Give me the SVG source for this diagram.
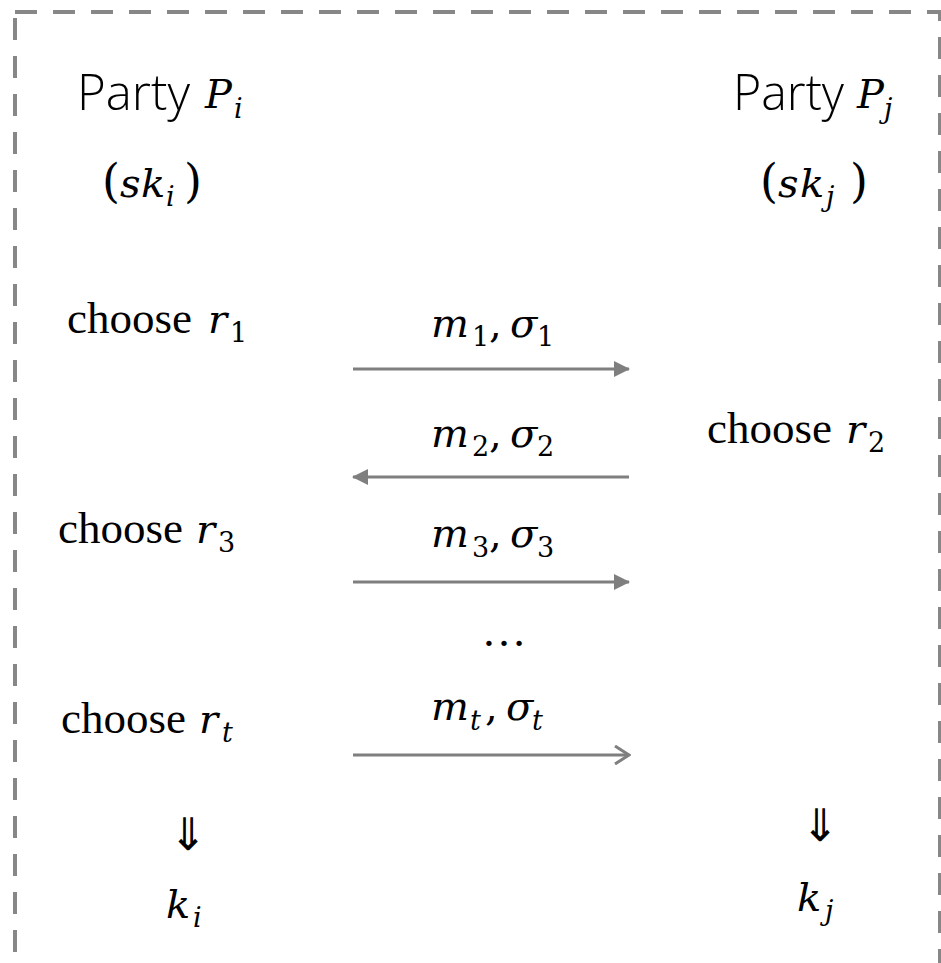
<svg xmlns="http://www.w3.org/2000/svg" width="941" height="963" viewBox="0 0 941 963">
  <style>
    .frame { fill: none; stroke: #878787; stroke-width: 4; stroke-dasharray: 22 16; }
    .msg { stroke: #7f7f7f; stroke-width: 3; fill: none; }
    .sans { font-family: "Open Sans", "Noto Sans", sans-serif; font-weight: 300; font-size: 49px; fill: #000; }
    .serif { font-family: "Liberation Serif", serif; font-size: 45px; fill: #000; }
    .math { font-family: "DejaVu Serif", serif; font-style: italic; font-size: 40px; fill: #000; }
    .implies { font-family: "Liberation Serif", "DejaVu Sans", serif; font-size: 45px; fill: #000; }
    .up { font-style: normal; }
    .sub { font-size: 27px; }
    .paren { font-size: 46px; }
  </style>
  <defs>
    <marker id="headFill" viewBox="0 0 16 16" refX="15" refY="8" markerWidth="16" markerHeight="16" markerUnits="userSpaceOnUse" orient="auto">
      <path d="M0,0 L16,8 L0,16 z" fill="#7f7f7f"/>
    </marker>
    <marker id="headOpen" viewBox="0 0 18 20" refX="16" refY="10" markerWidth="18" markerHeight="20" markerUnits="userSpaceOnUse" orient="auto">
      <path d="M2,1 L16,10 L2,19" fill="none" stroke="#7f7f7f" stroke-width="3"/>
    </marker>
  </defs>

  <rect width="941" height="963" fill="#fff"/>

  <!-- dashed boundary of the protocol box -->
  <rect class="frame" x="15" y="12" width="925" height="970"/>

  <!-- party Pi column -->
  <g id="party-i">
    <text class="sans" x="77" y="110" textLength="113" lengthAdjust="spacingAndGlyphs">Party</text>
    <text class="math" font-size="46"><tspan x="205" y="108">P</tspan><tspan class="sub" x="234" y="118">i</tspan></text>
    <text class="math"><tspan class="up paren" x="102" y="197">(</tspan><tspan x="120" y="197">s</tspan><tspan x="141" y="197">k</tspan><tspan class="sub" x="166" y="206">i</tspan><tspan class="up paren" x="184" y="197">)</tspan></text>
  </g>

  <!-- party Pj column -->
  <g id="party-j">
    <text class="sans" x="733" y="110" textLength="111" lengthAdjust="spacingAndGlyphs">Party</text>
    <text class="math" font-size="46"><tspan x="857" y="108">P</tspan><tspan class="sub" x="884" y="118">j</tspan></text>
    <text class="math"><tspan class="up paren" x="760" y="197">(</tspan><tspan x="778" y="197">s</tspan><tspan x="800" y="197">k</tspan><tspan class="sub" x="826" y="206">j</tspan><tspan class="up paren" x="850" y="197">)</tspan></text>
  </g>

  <g id="step-r1">
    <text class="serif" x="67" y="333">choose</text>
    <text class="math"><tspan x="208" y="333">r</tspan><tspan class="up sub" x="230" y="342">1</tspan></text>
  </g>
  <g id="step-r2">
    <text class="serif" x="707" y="443">choose</text>
    <text class="math"><tspan x="846" y="443">r</tspan><tspan class="up sub" x="868" y="452">2</tspan></text>
  </g>
  <g id="step-r3">
    <text class="serif" x="58" y="543">choose</text>
    <text class="math"><tspan x="196" y="543">r</tspan><tspan class="up sub" x="218" y="552">3</tspan></text>
  </g>
  <g id="step-rt">
    <text class="serif" x="61" y="733">choose</text>
    <text class="math"><tspan x="199" y="733">r</tspan><tspan class="sub" x="222" y="742">t</tspan></text>
  </g>

  <!-- derived keys -->
  <g id="key-i">
    <text class="implies" x="188" y="850" text-anchor="middle">⇓</text>
    <text class="math" font-size="44"><tspan x="166" y="918">k</tspan><tspan class="sub" x="193" y="927">i</tspan></text>
  </g>
  <g id="key-j">
    <text class="implies" x="820" y="841" text-anchor="middle">⇓</text>
    <text class="math" font-size="44"><tspan x="797" y="911">k</tspan><tspan class="sub" x="825" y="920">j</tspan></text>
  </g>

  <!-- messages exchanged between the parties -->
  <g id="connectors">
    <line class="msg" x1="353" y1="369" x2="629" y2="369" marker-end="url(#headFill)"/>
    <line class="msg" x1="629" y1="477" x2="353" y2="477" marker-end="url(#headFill)"/>
    <line class="msg" x1="353" y1="582" x2="629" y2="582" marker-end="url(#headFill)"/>
    <line class="msg" x1="353" y1="755" x2="629" y2="755" marker-end="url(#headOpen)"/>
  </g>

  <g id="labels">
    <text class="math"><tspan x="431" y="337">m</tspan><tspan class="up sub" x="472" y="346">1</tspan><tspan class="up" x="489" y="337">,</tspan><tspan x="510" y="337">σ</tspan><tspan class="up sub" x="537" y="346">1</tspan></text>
    <text class="math"><tspan x="431" y="447">m</tspan><tspan class="up sub" x="472" y="456">2</tspan><tspan class="up" x="489" y="447">,</tspan><tspan x="510" y="447">σ</tspan><tspan class="up sub" x="537" y="456">2</tspan></text>
    <text class="math"><tspan x="431" y="547">m</tspan><tspan class="up sub" x="472" y="557">3</tspan><tspan class="up" x="489" y="547">,</tspan><tspan x="510" y="547">σ</tspan><tspan class="up sub" x="537" y="557">3</tspan></text>
    <text class="serif" x="504" y="646" text-anchor="middle">…</text>
    <text class="math"><tspan x="431" y="720">m</tspan><tspan class="sub" x="470" y="730">t</tspan><tspan class="up" x="485" y="720">,</tspan><tspan x="506" y="720">σ</tspan><tspan class="sub" x="532" y="730">t</tspan></text>
  </g>
</svg>
